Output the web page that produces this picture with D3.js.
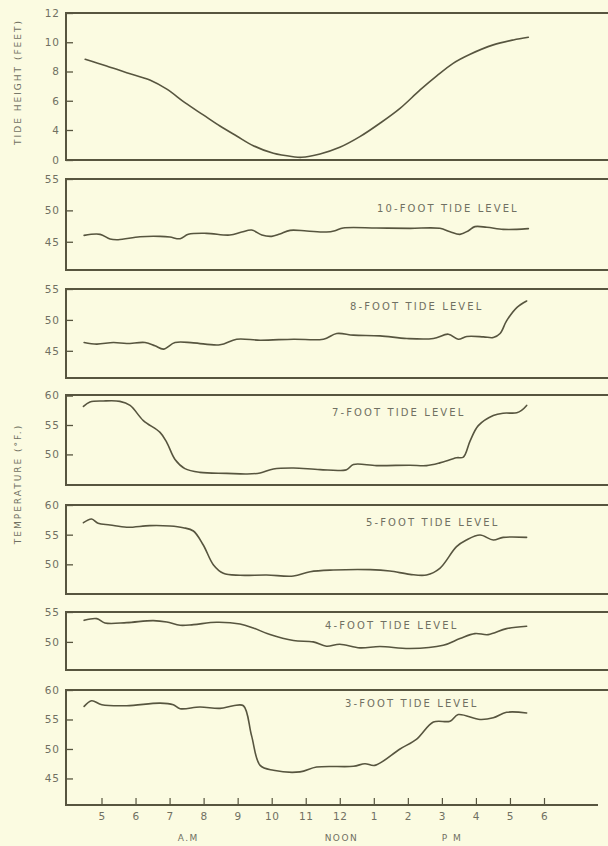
<!DOCTYPE html>
<html>
<head>
<meta charset="utf-8">
<script src="https://cdn.jsdelivr.net/npm/d3@7"></script>
<style>
  html, body { margin: 0; padding: 0; background: #fbfbe1; }
  svg { display: block; }
</style>
</head>
<body>
<svg id="chart" width="608" height="846"></svg>
<script>
// ---------- DATA (hour of day, 24h clock ; value) ----------
const tideHeight = [[4.52,8.84],[5.15,8.38],[5.74,7.92],[6.42,7.42],[6.92,6.79],[7.45,5.87],[7.99,5.03],[8.48,4.27],[8.97,3.2],[9.46,1.91],[10.05,0.89],[10.63,0.44],[10.88,0.36],[11.42,0.8],[12.0,1.69],[12.59,3.11],[13.18,4.46],[13.77,5.48],[14.36,6.74],[14.85,7.7],[15.33,8.56],[15.83,9.18],[16.51,9.82],[17.1,10.16],[17.54,10.34]];

const temp10ft = [[4.49,46.02],[4.96,46.18],[5.25,45.43],[5.49,45.32],[6.13,45.8],[6.72,45.86],[7.01,45.75],[7.31,45.48],[7.55,46.18],[8.09,46.34],[8.77,46.07],[9.12,46.55],[9.41,46.87],[9.71,46.07],[10.0,45.86],[10.24,46.23],[10.54,46.82],[11.03,46.71],[11.61,46.55],[11.86,46.76],[12.1,47.19],[13.08,47.19],[14.06,47.14],[14.94,47.14],[15.24,46.6],[15.53,46.18],[15.78,46.76],[15.97,47.41],[16.32,47.3],[16.8,46.98],[17.2,46.98],[17.54,47.09]];

const temp8ft = [[4.49,46.34],[4.86,46.08],[5.35,46.34],[5.74,46.18],[6.28,46.34],[6.57,45.81],[6.82,45.27],[7.16,46.34],[7.7,46.29],[8.48,45.97],[8.97,46.88],[9.66,46.72],[10.64,46.88],[11.52,46.88],[11.91,47.8],[12.4,47.53],[13.18,47.42],[13.97,46.99],[14.75,46.99],[15.19,47.69],[15.48,46.88],[15.73,47.31],[16.22,47.26],[16.51,47.15],[16.71,47.8],[16.9,49.84],[17.2,51.99],[17.49,53.06]];

const temp7ft = [[4.47,58.16],[4.66,58.91],[5.05,59.08],[5.54,59.02],[5.84,58.33],[6.23,55.75],[6.72,53.74],[6.92,52.01],[7.16,49.14],[7.45,47.59],[7.89,46.95],[8.68,46.78],[9.27,46.67],[9.66,46.84],[10.05,47.53],[10.64,47.7],[11.42,47.41],[12.2,47.41],[12.4,48.28],[13.08,48.1],[14.06,48.16],[14.55,48.1],[14.94,48.56],[15.43,49.43],[15.63,49.54],[15.83,52.3],[16.07,54.89],[16.51,56.61],[16.8,57.01],[17.2,57.07],[17.34,57.47],[17.49,58.33]];

const temp5ft = [[4.47,57.02],[4.71,57.64],[4.9,56.91],[5.25,56.63],[5.74,56.24],[6.42,56.52],[7.01,56.46],[7.4,56.18],[7.7,55.62],[7.99,53.26],[8.29,49.89],[8.58,48.48],[9.07,48.15],[9.85,48.2],[10.64,48.03],[11.13,48.76],[11.81,49.04],[12.89,49.1],[13.47,48.88],[14.06,48.31],[14.55,48.2],[14.94,49.33],[15.43,52.98],[15.72,54.1],[16.12,54.94],[16.51,54.1],[16.8,54.55],[17.49,54.55]];

const temp4ft = [[4.49,53.61],[4.86,53.89],[5.1,53.17],[5.74,53.22],[6.52,53.56],[6.92,53.33],[7.31,52.78],[7.7,52.89],[8.38,53.28],[9.07,53.0],[9.46,52.33],[9.95,51.22],[10.64,50.22],[11.22,50.0],[11.61,49.28],[12.0,49.61],[12.59,49.0],[13.18,49.22],[14.06,48.89],[15.04,49.44],[15.53,50.56],[15.97,51.39],[16.36,51.22],[16.9,52.22],[17.49,52.61]];

const temp3ft = [[4.49,57.22],[4.71,58.17],[5.01,57.5],[5.74,57.33],[6.72,57.78],[7.11,57.5],[7.31,56.83],[7.89,57.11],[8.48,56.89],[8.87,57.33],[9.17,57.33],[9.41,52.22],[9.66,47.22],[10.05,46.39],[10.83,46.11],[11.32,46.94],[12.4,47.06],[12.74,47.5],[13.03,47.22],[13.77,50.0],[14.26,51.67],[14.75,54.56],[15.24,54.72],[15.48,55.83],[16.12,55.0],[16.51,55.28],[16.9,56.22],[17.49,56.11]];

const panelLabels = [null, "10-FOOT TIDE LEVEL", "8-FOOT TIDE LEVEL", "7-FOOT TIDE LEVEL", "5-FOOT TIDE LEVEL", "4-FOOT TIDE LEVEL", "3-FOOT TIDE LEVEL"];
const yDomains = [[0,4,12],[40.5,55],[40.6,55],[44.8,60.1],[45,60],[45.3,55],[40.5,60]];
const yTicks = [[0,4,6,8,10,12],[45,50,55],[45,50,55],[50,55,60],[50,55,60],[50,55],[45,50,55,60]];

const xTickValues = [5,6,7,8,9,10,11,12,13,14,15,16,17,18];
const xTickLabels = ["5","6","7","8","9","10","11","12","1","2","3","4","5","6"];
const periodLabels = ["A.M","NOON","P M"];
const periodHours = [7.55, 12.05, 15.3];

const yTitles = ["TIDE HEIGHT (FEET)", "TEMPERATURE (°F.)"];

// ---------- LAYOUT ----------
const series = [tideHeight, temp10ft, temp8ft, temp7ft, temp5ft, temp4ft, temp3ft];
const layout = [
  {top:13, bottom:160, range:[160,130,13]},
  {top:179, bottom:270},
  {top:289, bottom:378},
  {top:395, bottom:485},
  {top:505, bottom:594},
  {top:612, bottom:670},
  {top:690, bottom:805}
];
const labelPos = [null, [377,212], [350,310], [332,416], [366,526], [325,629], [345,707]];

const W = 608, H = 846;
const axisX = 66, rightX = 608;
const ink = "#57553f", textCol = "#707062";
const font = "'DejaVu Sans', sans-serif";

const svg = d3.select("#chart");
svg.append("rect").attr("width", W).attr("height", H).attr("fill", "#fbfbe1");

const x = d3.scaleLinear().domain([5,18]).range([101.5,544]);

layout.forEach((L, i) => {
  const y = d3.scaleLinear()
    .domain(yDomains[i])
    .range(L.range ? L.range : [L.bottom, L.top]);
  const g = svg.append("g");

  // frame: top, bottom, left
  const frameRight = i === layout.length - 1 ? 598 : rightX;
  g.append("line").attr("x1", axisX).attr("x2", rightX).attr("y1", L.top).attr("y2", L.top)
    .attr("stroke", ink).attr("stroke-width", 2);
  g.append("line").attr("x1", axisX).attr("x2", frameRight).attr("y1", L.bottom).attr("y2", L.bottom)
    .attr("stroke", ink).attr("stroke-width", 2);
  g.append("line").attr("x1", axisX).attr("x2", axisX).attr("y1", L.top - 1).attr("y2", L.bottom + 1)
    .attr("stroke", ink).attr("stroke-width", 2);

  // y axis
  const ax = g.append("g").attr("transform", `translate(${axisX},0)`)
    .call(d3.axisLeft(y).tickValues(yTicks[i]).tickFormat(d3.format("d")).tickSize(-7).tickPadding(6));
  ax.select(".domain").remove();
  ax.selectAll(".tick line").attr("stroke", ink).attr("stroke-width", 1.3);
  ax.selectAll(".tick text").attr("fill", textCol).attr("font-family", font)
    .attr("font-size", 10.5).attr("letter-spacing", "1px");

  // curve
  const line = d3.line().x(d => x(d[0])).y(d => y(d[1])).curve(d3.curveCatmullRom.alpha(0.5));
  g.append("path").datum(series[i]).attr("d", line)
    .attr("fill", "none").attr("stroke", ink).attr("stroke-width", 1.6)
    .attr("stroke-linejoin", "round").attr("stroke-linecap", "round");

  // panel label
  if (panelLabels[i]) {
    g.append("text").attr("x", labelPos[i][0]).attr("y", labelPos[i][1])
      .text(panelLabels[i])
      .attr("fill", textCol).attr("font-family", font).attr("font-size", 10)
      .attr("letter-spacing", "2.1px");
  }

  // x axis at bottom panel
  if (i === layout.length - 1) {
    const xa = g.append("g").attr("transform", `translate(0,${L.bottom})`)
      .call(d3.axisBottom(x).tickValues(xTickValues).tickFormat((d, k) => xTickLabels[k]).tickSize(-7).tickPadding(8));
    xa.select(".domain").remove();
    xa.selectAll(".tick line").attr("stroke", ink).attr("stroke-width", 1.2);
    xa.selectAll(".tick text").attr("fill", textCol).attr("font-family", font)
      .attr("font-size", 10.5).attr("letter-spacing", "0.5px");

    g.selectAll("text.period").data(periodLabels).enter().append("text")
      .attr("class", "period")
      .attr("x", (d, k) => x(periodHours[k]))
      .attr("y", L.bottom + 36)
      .attr("text-anchor", "middle")
      .text(d => d)
      .attr("fill", textCol).attr("font-family", font).attr("font-size", 9)
      .attr("letter-spacing", "1.5px");
  }
});

// y titles
const titleCenters = [[18, 82], [18, 484]];
yTitles.forEach((t, k) => {
  svg.append("text")
    .attr("transform", `translate(${titleCenters[k][0]},${titleCenters[k][1]}) rotate(-90)`)
    .attr("text-anchor", "middle")
    .attr("dy", "0.35em")
    .text(t)
    .attr("fill", textCol).attr("font-family", font).attr("font-size", 9)
    .attr("letter-spacing", "2px");
});
</script>
</body>
</html>
